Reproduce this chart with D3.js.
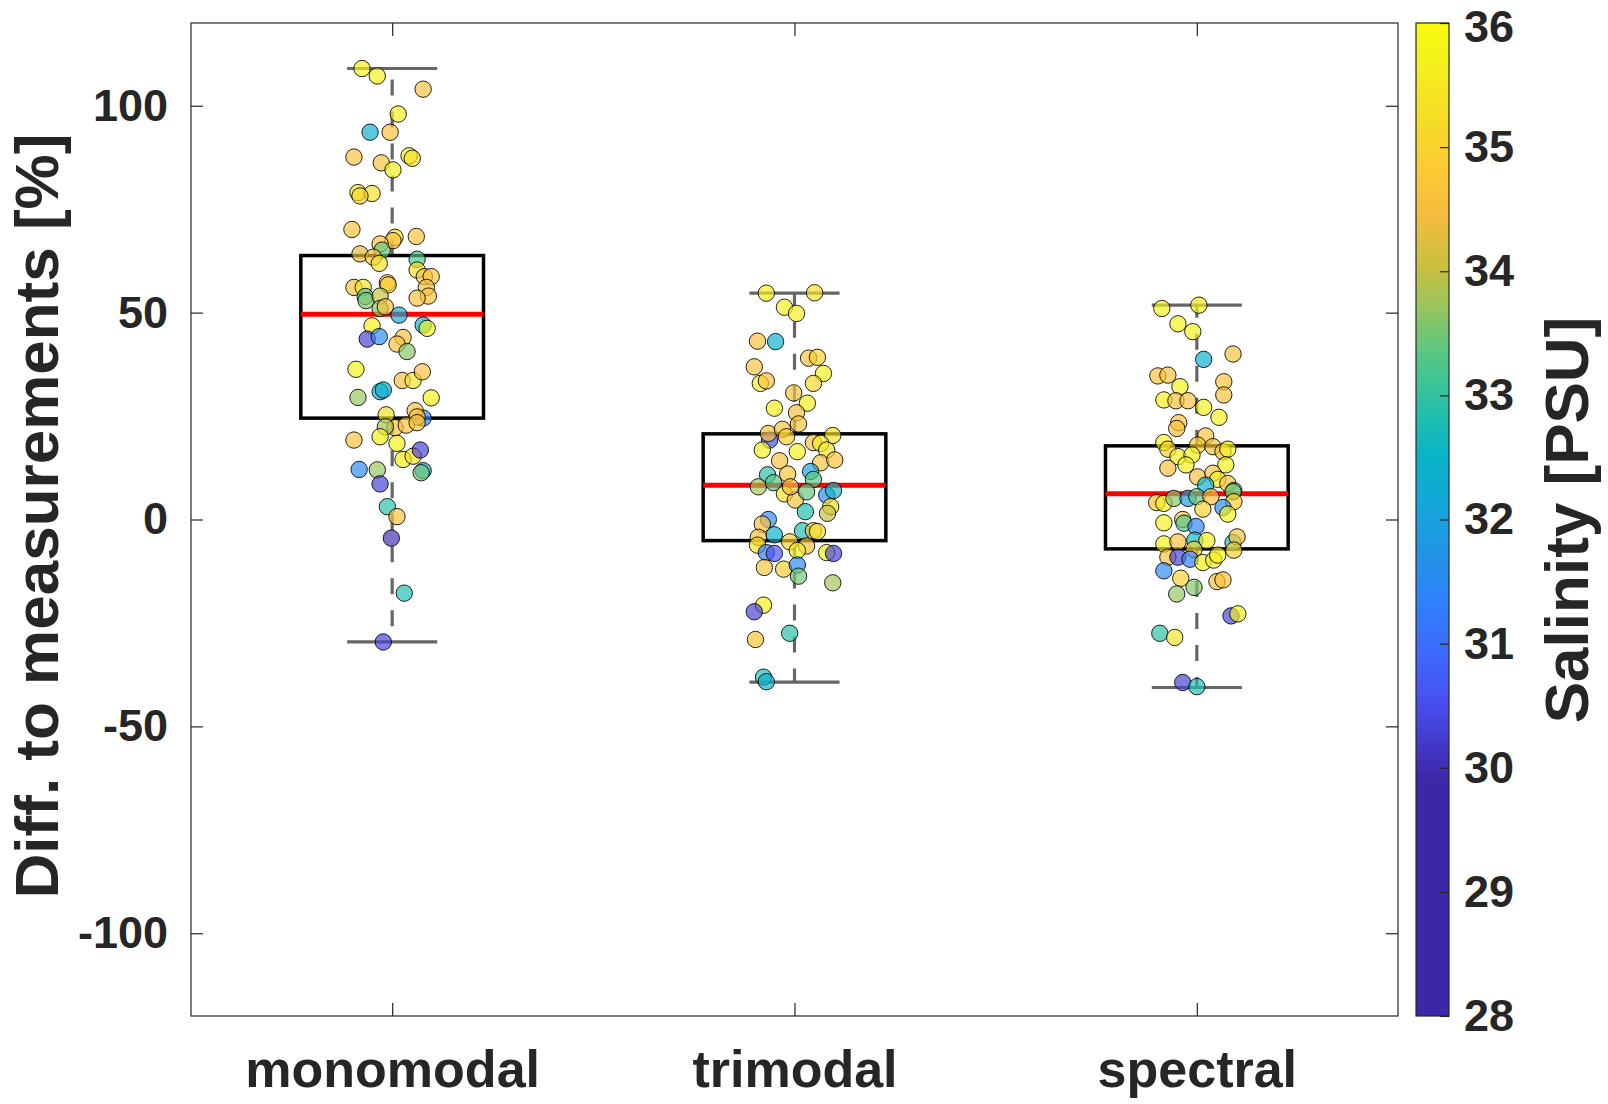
<!DOCTYPE html>
<html>
<head>
<meta charset="utf-8">
<script src="https://cdn.jsdelivr.net/npm/d3@7"></script>
<style>
  body { margin: 0; background: #fff; }
  text { font-family: "Liberation Sans", Arial, sans-serif; font-weight: bold; fill: #262626; }
</style>
</head>
<body>
<div id="chart"></div>
<script>
// categories / ticks
const categories = ["monomodal", "trimodal", "spectral"];
const yTicks = [-100, -50, 0, 50, 100];
const salTicks = [28, 29, 30, 31, 32, 33, 34, 35, 36];

// box statistics per category
const boxQ1 = [24.5, -5.1, -7.1];
const boxMedian = [49.6, 8.3, 6.2];
const boxQ3 = [63.8, 20.7, 17.8];
const whiskerLow = [-29.6, -39.3, -40.6];
const whiskerHigh = [109.0, 54.7, 51.8];

// points: [jitter (x units), diff to measurements %, salinity PSU]
const monomodalPts = [
  [-0.075, 109.0, 35.7], [-0.037, 107.2, 35.7], [0.077, 104.0, 34.6], [0.015, 98.0, 35.7],
  [-0.055, 93.6, 32.4], [-0.005, 93.6, 34.6], [-0.095, 87.6, 34.6], [-0.027, 86.2, 34.6],
  [0.002, 84.5, 35.7], [0.042, 87.9, 35.7], [0.050, 87.3, 35.3], [-0.085, 79.0, 35.7],
  [-0.050, 78.8, 35.3], [-0.080, 78.2, 35.0], [-0.100, 70.1, 34.6], [0.007, 68.2, 35.3],
  [0.002, 67.4, 34.6], [-0.030, 66.6, 34.6], [0.060, 68.4, 34.6], [-0.025, 65.1, 33.4],
  [-0.080, 64.2, 34.3], [-0.047, 63.4, 34.6], [-0.032, 61.9, 35.3], [0.062, 62.9, 33.2],
  [0.062, 60.3, 35.3], [0.080, 58.7, 34.6], [0.097, 58.7, 34.7], [-0.095, 56.1, 34.6],
  [-0.072, 56.1, 35.3], [-0.012, 57.2, 34.9], [-0.010, 56.7, 34.8], [-0.067, 53.9, 33.2],
  [-0.065, 52.9, 33.6], [-0.030, 54.0, 34.0], [0.085, 56.1, 34.6], [0.090, 54.0, 34.6],
  [0.062, 53.5, 34.6], [-0.030, 51.0, 33.6], [-0.017, 51.4, 34.6], [0.017, 49.4, 32.2],
  [-0.050, 46.8, 35.7], [0.077, 47.0, 32.4], [0.087, 46.2, 35.7], [-0.062, 43.6, 30.3],
  [-0.032, 44.2, 31.5], [0.027, 44.0, 34.6], [0.012, 42.4, 34.6], [0.037, 40.6, 33.6],
  [-0.090, 36.3, 35.7], [0.025, 33.6, 34.6], [0.052, 33.6, 35.3], [0.075, 35.7, 34.6],
  [-0.085, 29.5, 33.7], [-0.030, 30.9, 32.3], [-0.022, 31.3, 32.4], [0.097, 29.4, 35.7],
  [-0.015, 25.3, 35.3], [0.077, 24.5, 31.5], [0.057, 26.3, 34.6], [0.062, 24.8, 34.6],
  [0.007, 22.2, 34.6], [0.035, 22.8, 34.6], [0.062, 23.4, 34.6], [-0.017, 22.4, 33.8],
  [-0.095, 19.2, 34.6], [-0.030, 20.0, 35.7], [0.012, 18.4, 35.7], [0.027, 14.5, 35.7],
  [0.052, 15.3, 35.3], [0.070, 16.8, 30.3], [-0.082, 12.1, 31.5], [-0.037, 12.0, 33.7],
  [0.077, 11.8, 32.2], [0.072, 11.3, 33.5], [-0.030, 8.6, 30.3], [-0.012, 3.1, 32.9],
  [0.012, 0.7, 34.6], [-0.002, -4.5, 30.0], [0.030, -17.8, 32.8], [-0.022, -29.6, 30.3]
];

const trimodalPts = [
  [-0.070, 54.7, 35.7], [0.050, 54.8, 35.3], [-0.025, 51.3, 35.7], [0.005, 49.8, 35.7],
  [-0.092, 43.1, 34.6], [-0.047, 43.0, 32.4], [0.035, 39.0, 34.6], [0.057, 39.2, 34.9],
  [-0.100, 36.9, 34.6], [0.072, 35.3, 35.7], [-0.085, 32.9, 35.7], [-0.070, 33.5, 34.6],
  [0.047, 32.9, 35.1], [-0.002, 30.6, 34.6], [0.032, 28.1, 35.7], [-0.050, 26.9, 35.7],
  [0.005, 25.8, 34.6], [0.010, 23.1, 34.6], [-0.062, 19.2, 30.5], [-0.065, 20.8, 34.6],
  [-0.030, 21.8, 34.6], [-0.020, 20.0, 35.0], [0.095, 20.3, 35.3], [0.047, 18.6, 34.6],
  [0.065, 18.4, 35.7], [-0.080, 16.8, 35.7], [0.007, 16.4, 35.7], [0.080, 16.8, 35.3],
  [-0.037, 14.2, 34.6], [0.065, 13.7, 34.6], [0.100, 14.4, 34.6], [-0.017, 11.0, 34.6],
  [-0.067, 10.8, 32.9], [0.040, 11.6, 32.0], [0.047, 9.7, 33.3], [-0.090, 7.9, 33.8],
  [-0.052, 8.9, 33.3], [-0.025, 6.2, 35.3], [0.002, 4.7, 34.6], [-0.010, 7.9, 34.5],
  [0.030, 6.7, 33.4], [0.080, 5.9, 31.6], [0.097, 7.0, 32.6], [0.090, 3.1, 35.3],
  [0.082, 1.5, 34.0], [0.027, 1.9, 32.8], [-0.065, 0.0, 31.5], [-0.080, -1.1, 34.6],
  [-0.050, -3.7, 32.4], [-0.090, -4.3, 34.6], [-0.092, -6.2, 35.3], [0.020, -2.7, 32.8],
  [0.047, -2.7, 34.6], [0.057, -2.9, 35.3], [-0.012, -5.4, 35.0], [0.030, -6.4, 34.6],
  [0.007, -7.5, 35.7], [-0.070, -8.0, 31.2], [-0.050, -8.2, 30.6], [0.080, -8.0, 35.7],
  [0.097, -8.2, 30.3], [-0.075, -11.6, 34.6], [-0.027, -12.0, 34.9], [0.007, -11.0, 31.5],
  [0.010, -13.7, 33.5], [0.095, -15.3, 33.8], [-0.077, -20.7, 35.7], [-0.100, -22.3, 30.3],
  [-0.097, -29.0, 34.6], [-0.012, -27.5, 32.9], [-0.077, -38.1, 32.8], [-0.070, -39.2, 32.3]
];

const spectralPts = [
  [-0.087, 51.0, 35.7], [0.005, 51.8, 35.7], [-0.047, 47.3, 35.7], [-0.010, 45.4, 35.7],
  [0.017, 38.7, 32.4], [0.090, 40.0, 34.6], [-0.097, 34.7, 34.6], [-0.072, 34.9, 34.6],
  [0.067, 33.3, 34.6], [0.067, 30.1, 34.6], [-0.042, 32.1, 35.7], [-0.082, 28.9, 35.7],
  [-0.052, 28.7, 34.6], [-0.022, 28.7, 34.6], [0.017, 27.1, 35.7], [0.055, 24.7, 35.7],
  [-0.045, 23.4, 34.6], [-0.050, 22.0, 34.6], [0.022, 20.2, 34.6], [-0.082, 18.6, 35.7],
  [-0.072, 17.0, 35.0], [0.002, 18.0, 34.9], [0.040, 17.6, 34.6], [0.065, 16.4, 34.6],
  [0.077, 17.0, 35.7], [-0.047, 15.2, 35.7], [-0.012, 15.6, 35.7], [-0.027, 13.2, 35.7],
  [-0.072, 12.4, 34.6], [0.072, 13.2, 35.7], [0.002, 10.3, 34.6], [0.040, 11.2, 34.6],
  [0.052, 9.7, 35.7], [0.022, 8.3, 32.3], [0.077, 8.7, 34.6], [0.092, 7.0, 33.5],
  [-0.100, 4.1, 34.6], [-0.082, 3.9, 35.7], [-0.057, 5.1, 33.6], [-0.022, 5.1, 32.0],
  [0.000, 5.5, 33.4], [0.035, 5.5, 34.6], [0.090, 6.7, 33.5], [0.092, 4.3, 35.0],
  [0.015, 2.5, 35.0], [0.065, 2.9, 31.6], [0.077, 1.3, 35.7], [-0.082, -0.8, 35.7],
  [-0.035, 0.0, 34.6], [-0.032, -0.9, 33.2], [-0.002, -1.7, 31.4], [-0.082, -5.9, 35.7],
  [-0.047, -5.4, 34.6], [-0.005, -5.0, 32.7], [0.025, -5.1, 35.7], [-0.007, -7.2, 35.0],
  [0.090, -5.6, 32.9], [0.100, -4.2, 34.6], [0.092, -7.4, 35.0], [-0.072, -9.1, 34.6],
  [-0.047, -9.1, 30.3], [-0.017, -9.6, 31.3], [0.015, -10.4, 35.7], [0.042, -9.8, 35.7],
  [0.052, -8.6, 35.7], [-0.082, -12.4, 31.5], [-0.040, -14.2, 35.0], [0.050, -15.0, 34.6],
  [0.065, -14.6, 34.6], [-0.007, -16.4, 33.6], [-0.050, -18.0, 33.7], [0.085, -23.3, 30.3],
  [0.102, -22.8, 35.7], [-0.092, -27.5, 32.9], [-0.055, -28.5, 35.3], [-0.035, -39.4, 30.3],
  [0.000, -40.4, 32.8]
];

// parula-like colormap (clamped below ~30)
const parulaStops = ["#3e26a8", "#4852f4", "#3d6cfd", "#2e82fa", "#2294e6", "#13a7da", "#08b4c6",
  "#27bfa9", "#55c784", "#92c660", "#cbbf3d", "#f7bc3f", "#fccb33", "#f5dc27", "#f3ee1d", "#f9fb0e"];
const parulaPos = [0, 0.11, 0.175, 0.24, 0.30, 0.365, 0.43, 0.49, 0.56, 0.62, 0.68, 0.75, 0.81, 0.87, 0.94, 1];

function makeChart() {
  let svgWidth = 1608;
  let svgHeight = 1104;
  let margin = { top: 23, right: 210, bottom: 88, left: 191 };
  let width = svgWidth - margin.left - margin.right;
  let height = svgHeight - margin.top - margin.bottom;

  let svg = d3.select("#chart").append("svg")
    .attr("width", svgWidth)
    .attr("height", svgHeight);

  let chartGroup = svg.append("g")
    .attr("transform", `translate(${margin.left}, ${margin.top})`);

  let xScale = d3.scaleLinear().domain([0.5, 3.5]).range([0, width]);
  let yScale = d3.scaleLinear().domain([-120, 120]).range([height, 0]);

  let tScale = d3.scaleLinear().domain([29.9, 36]).range([0, 1]).clamp(true);
  let cInterp = d3.scaleLinear().domain(parulaPos).range(parulaStops).interpolate(d3.interpolateRgb);
  let colorOf = s => cInterp(tScale(s));

  // frame
  chartGroup.append("rect")
    .attr("width", width).attr("height", height)
    .attr("fill", "none").attr("stroke", "#262626").attr("stroke-width", 1.2);

  // axes (ticks point inward, like matlab)
  let yAxis = d3.axisLeft(yScale).tickValues(yTicks).tickSize(-12).tickPadding(23)
    .tickFormat(d => String(d));
  let yAxisR = d3.axisRight(yScale).tickValues(yTicks).tickSize(-12).tickFormat("");
  let xAxis = d3.axisBottom(xScale).tickValues([1, 2, 3]).tickSize(-13).tickPadding(34)
    .tickFormat((d, i) => categories[i]);
  let xAxisT = d3.axisTop(xScale).tickValues([1, 2, 3]).tickSize(-13).tickFormat("");

  let gy = chartGroup.append("g").call(yAxis);
  chartGroup.append("g").attr("transform", `translate(${width},0)`).call(yAxisR);
  let gx = chartGroup.append("g").attr("transform", `translate(0,${height})`).call(xAxis);
  chartGroup.append("g").call(xAxisT);
  chartGroup.selectAll(".domain").remove();
  chartGroup.selectAll(".tick line").attr("stroke", "#262626").attr("stroke-width", 1.2);
  gy.selectAll("text").attr("font-size", 45).attr("fill", "#262626");
  gx.selectAll("text").attr("font-size", 52).attr("fill", "#262626");
  chartGroup.selectAll("text").attr("font-family", null);

  // boxes
  let boxHalf = 0.227;
  let capHalf = 0.112;
  categories.forEach((c, i) => {
    let cx = i + 1;
    let g = chartGroup.append("g");
    // whiskers
    g.append("line")
      .attr("x1", xScale(cx)).attr("x2", xScale(cx))
      .attr("y1", yScale(boxQ3[i])).attr("y2", yScale(whiskerHigh[i]))
      .attr("stroke", "#666").attr("stroke-width", 3.2).attr("stroke-dasharray", "16,16");
    g.append("line")
      .attr("x1", xScale(cx)).attr("x2", xScale(cx))
      .attr("y1", yScale(boxQ1[i])).attr("y2", yScale(whiskerLow[i]))
      .attr("stroke", "#666").attr("stroke-width", 3.2).attr("stroke-dasharray", "16,16");
    [whiskerHigh[i], whiskerLow[i]].forEach(w => {
      g.append("line")
        .attr("x1", xScale(cx - capHalf)).attr("x2", xScale(cx + capHalf))
        .attr("y1", yScale(w)).attr("y2", yScale(w))
        .attr("stroke", "#666").attr("stroke-width", 3.2);
    });
    g.append("rect")
      .attr("x", xScale(cx - boxHalf)).attr("width", xScale(cx + boxHalf) - xScale(cx - boxHalf))
      .attr("y", yScale(boxQ3[i])).attr("height", yScale(boxQ1[i]) - yScale(boxQ3[i]))
      .attr("fill", "none").attr("stroke", "#000").attr("stroke-width", 3.5);
    g.append("line")
      .attr("x1", xScale(cx - boxHalf)).attr("x2", xScale(cx + boxHalf))
      .attr("y1", yScale(boxMedian[i])).attr("y2", yScale(boxMedian[i]))
      .attr("stroke", "#ff0000").attr("stroke-width", 5);
  });

  // scatter points
  [monomodalPts, trimodalPts, spectralPts].forEach((pts, i) => {
    chartGroup.append("g").selectAll("circle")
      .data(pts)
      .enter()
      .append("circle")
      .attr("cx", d => xScale(i + 1 + d[0]))
      .attr("cy", d => yScale(d[1]))
      .attr("r", 8.2)
      .attr("fill", d => colorOf(d[2]))
      .attr("fill-opacity", 0.68)
      .attr("stroke", "#000")
      .attr("stroke-opacity", 0.85)
      .attr("stroke-width", 1);
  });

  // y label
  svg.append("text")
    .attr("transform", `translate(58, 516) rotate(-90)`)
    .attr("text-anchor", "middle")
    .attr("font-size", 62)
    .text("Diff. to measurements [%]");

  // colorbar
  let cbX = 1416, cbW = 33;
  let cScale = d3.scaleLinear().domain([28, 36]).range([margin.top + height, margin.top]);
  let defs = svg.append("defs");
  let grad = defs.append("linearGradient").attr("id", "cbgrad")
    .attr("x1", 0).attr("x2", 0).attr("y1", 1).attr("y2", 0);
  d3.range(0, 101).forEach(k => {
    let v = 28 + 8 * k / 100;
    grad.append("stop").attr("offset", `${k}%`).attr("stop-color", colorOf(v));
  });
  svg.append("rect")
    .attr("x", cbX).attr("y", cScale(36))
    .attr("width", cbW).attr("height", cScale(28) - cScale(36))
    .attr("fill", "url(#cbgrad)")
    .attr("stroke", "#262626").attr("stroke-width", 1.2);
  let cAxis = d3.axisRight(cScale).tickValues(salTicks).tickSize(-9).tickPadding(15);
  let gc = svg.append("g").attr("transform", `translate(${cbX + cbW},0)`).call(cAxis);
  gc.select(".domain").remove();
  gc.selectAll(".tick line").attr("stroke", "#262626").attr("stroke-width", 1.2);
  gc.selectAll("text").attr("font-size", 45).attr("fill", "#262626").attr("font-family", null);
  // keep the top label inside the page
  gc.selectAll("text").filter(d => d === 36).attr("dy", "0.42em");

  svg.append("text")
    .attr("transform", `translate(1588, 520) rotate(-90)`)
    .attr("text-anchor", "middle")
    .attr("font-size", 62)
    .text("Salinity [PSU]");
}

makeChart();
</script>
</body>
</html>
